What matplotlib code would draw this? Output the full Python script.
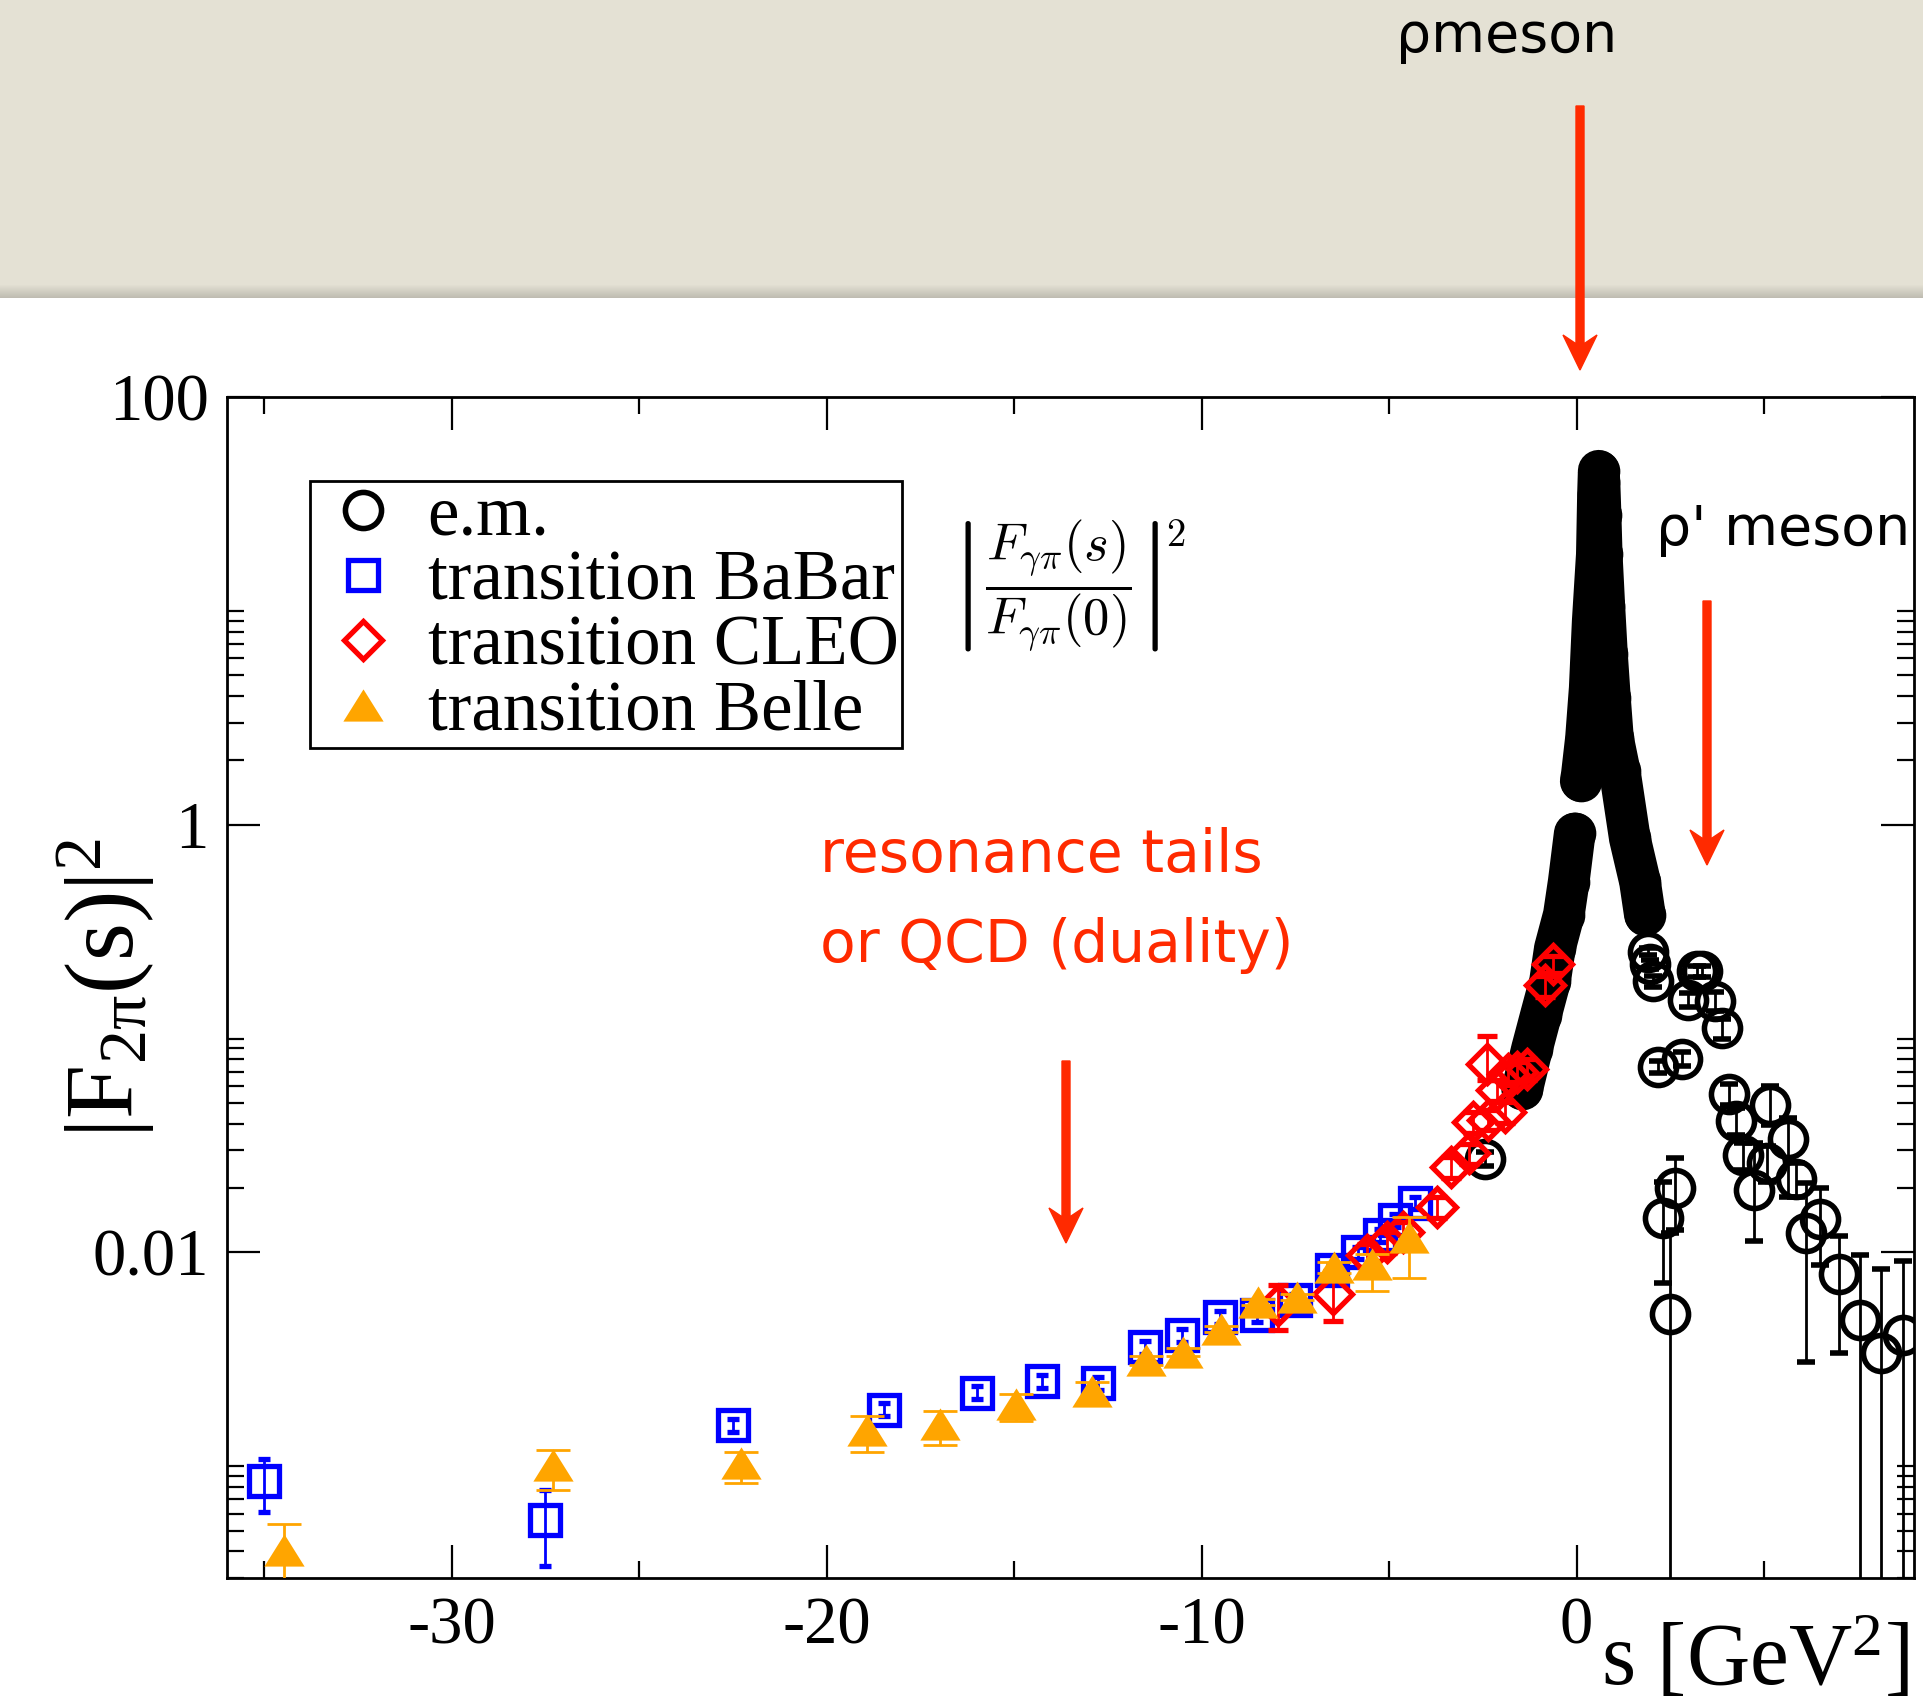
import numpy as np
import matplotlib
matplotlib.use('Agg')
import matplotlib.pyplot as plt
from matplotlib.lines import Line2D
from matplotlib.patches import FancyArrow
from matplotlib.ticker import NullFormatter
from matplotlib.transforms import IdentityTransform

plt.rcParams['font.family'] = ['Liberation Serif', 'DejaVu Serif']
plt.rcParams['mathtext.fontset'] = 'custom'
plt.rcParams['mathtext.rm'] = 'Liberation Serif'
plt.rcParams['mathtext.it'] = 'Liberation Serif:italic'
plt.rcParams['mathtext.bf'] = 'Liberation Serif:bold'
plt.rcParams['axes.unicode_minus'] = False

# e.m. pion form factor, dense timelike data around the rho peak
em_band_s = [0.11, 0.14, 0.25, 0.35, 0.43, 0.54, 0.57, 0.59, 0.61, 0.64, 0.67,
             0.74, 0.81, 0.89, 0.97, 1.15, 1.42, 1.69, 1.82]
em_band_f = [1.60, 1.72, 2.54, 4.35, 8.95, 18.4, 35.0, 45.2, 40.0, 28.0, 18.4,
             10.5, 6.28, 3.9, 2.54, 1.78, 0.863, 0.542, 0.380]

# e.m. dense spacelike data
em_space_s = [-1.45, -1.19, -0.95, -0.71, -0.58, -0.34, -0.21, -0.05]
em_space_f = [0.058, 0.0895, 0.129, 0.185, 0.264, 0.380, 0.542, 0.910]

# e.m. isolated points with errors
em_s = [-2.44, 1.90, 1.95, 2.03, 2.17, 2.30, 2.49, 2.62, 2.81, 2.97, 3.21, 3.34,
        3.69, 3.87, 4.07, 4.25, 4.45, 4.74, 5.07, 5.17, 5.63, 5.86, 6.12, 6.48,
        7.00, 7.56, 8.11, 8.70]
em_f = [0.0274, 0.255, 0.222, 0.185, 0.0738, 0.0144, 0.00516, 0.0201, 0.0804,
        0.152, 0.206, 0.206, 0.150, 0.112, 0.055, 0.0412, 0.0284, 0.0196, 0.0263,
        0.049, 0.0338, 0.0221, 0.01236, 0.0143, 0.00788, 0.00483, 0.00338, 0.00412]
em_lo = [0.002, 0.01, 0.01, 0.01, 0.005, 0.0072, 0.00511, 0.0074, 0.006, 0.012,
         0.012, 0.012, 0.015, 0.012, 0.006, 0.006, 0.004, 0.0083, 0.005, 0.0094,
         0.0157, 0.004, 0.0093, 0.0056, 0.0045, 0.00478, 0.00335, 0.00408]
em_hi = [0.002, 0.01, 0.01, 0.01, 0.005, 0.0069, 0.0072, 0.0076, 0.006, 0.012,
         0.012, 0.012, 0.015, 0.012, 0.006, 0.006, 0.004, 0.0128, 0.005, 0.0107,
         0.0085, 0.004, 0.0087, 0.0056, 0.0041, 0.00492, 0.00494, 0.0050]

# BaBar transition form factor
babar_s = [-35.0, -27.51, -22.51, -18.48, -16.0, -14.26, -12.76, -11.51, -10.52,
           -9.51, -8.52, -7.51, -6.52, -5.82, -5.24, -4.85, -4.30]
babar_f = [8.53e-4, 5.58e-4, 1.55e-3, 1.84e-3, 2.21e-3, 2.49e-3, 2.44e-3, 3.61e-3,
           4.10e-3, 4.98e-3, 5.07e-3, 5.97e-3, 8.26e-3, 1.00e-2, 1.20e-2, 1.41e-2,
           1.70e-2]
babar_lo = [2.4e-4, 2.16e-4, 1.1e-4, 1.3e-4, 1.5e-4, 1.7e-4, 1.7e-4, 2.5e-4, 2.8e-4,
            3.4e-4, 3.5e-4, 4.0e-4, 5.5e-4, 6.5e-4, 8.0e-4, 9.5e-4, 1.1e-3]
babar_hi = [2.3e-4, 2.2e-4, 1.1e-4, 1.3e-4, 1.5e-4, 1.7e-4, 1.7e-4, 2.5e-4, 2.8e-4,
            3.4e-4, 3.5e-4, 4.0e-4, 5.5e-4, 6.5e-4, 8.0e-4, 9.5e-4, 1.1e-3]

# CLEO transition form factor
cleo_s = [-7.96, -6.50, -5.59, -5.06, -4.63, -3.72, -3.35, -2.88, -2.76, -2.39,
          -2.37, -2.13, -1.91, -1.83, -1.60, -1.32, -0.84, -0.63]
cleo_f = [0.00566, 0.00638, 0.00975, 0.0112, 0.01245, 0.0163, 0.0250, 0.0290,
          0.0407, 0.0762, 0.0418, 0.0575, 0.0454, 0.0684, 0.070, 0.0723, 0.177,
          0.222]
cleo_lo = [0.00132, 0.00162, 0.0012, 0.0013, 0.0014, 0.0018, 0.0028, 0.0032, 0.0045,
           0.012, 0.0046, 0.0063, 0.005, 0.0075, 0.0077, 0.008, 0.02, 0.02]
cleo_hi = [0.00137, 0.0018, 0.0012, 0.0013, 0.0014, 0.0018, 0.0028, 0.0032, 0.0045,
           0.027, 0.0046, 0.0063, 0.005, 0.0075, 0.0077, 0.008, 0.02, 0.02]

# Belle transition form factor
belle_s = [-34.48, -27.3, -22.3, -18.94, -16.98, -14.95, -12.93, -11.48, -10.49,
           -9.49, -8.49, -7.47, -6.47, -5.46, -4.46]
belle_f = [4.07e-4, 1.01e-3, 1.03e-3, 1.47e-3, 1.57e-3, 1.95e-3, 2.25e-3, 3.13e-3,
           3.42e-3, 4.38e-3, 5.85e-3, 6.18e-3, 8.53e-3, 8.83e-3, 1.18e-2]
belle_lo = [4.0e-4, 2.4e-4, 2.0e-4, 3.1e-4, 3.2e-4, 3.3e-4, 3.0e-4, 1.5e-4, 1.5e-4,
            1.6e-4, 2.0e-4, 2.0e-4, 5.0e-4, 2.2e-3, 4.2e-3]
belle_hi = [1.3e-4, 1.8e-4, 1.4e-4, 2.5e-4, 2.5e-4, 2.2e-4, 2.2e-4, 1.4e-4, 1.4e-4,
            1.6e-4, 2.0e-4, 2.0e-4, 5.0e-4, 1.0e-3, 2.9e-3]

x_ticks = [-30, -20, -10, 0]
x_tick_labels = ['-30', '-20', '-10', '0']
x_minor = [-35, -25, -15, -5, 5]
y_ticks = [0.01, 1, 100]
y_tick_labels = ['0.01', '1', '100']
y_minor = [m * 10.0 ** e for e in (-4, -2, 0) for m in range(2, 11)]

W, H = 1924, 1707
RED = '#ff2a00'
ORANGE = '#ffa500'

fig = plt.figure(figsize=(W / 100, H / 100), dpi=100)

# paper banner across the top
band_h = 298
banner = np.ones((band_h, 1, 3)) * np.array([228, 225, 212]) / 255.
shade = np.linspace(1.0, 0.84, 14)
banner[-14:, 0, :] *= shade[:, None]
ax_b = fig.add_axes([0, 1 - band_h / H, 1, band_h / H])
ax_b.imshow(banner, aspect='auto', extent=[0, 1, 0, 1])
ax_b.axis('off')

ax = fig.add_axes([227 / W, 1 - 1578 / H, (1914 - 227) / W, (1578 - 397) / H])
ax.set_yscale('log')

circ = dict(marker='o', ms=26, mfc='none', mec='k', mew=4)
sq = dict(marker='s', ms=22, mfc='none', mec='#0000ff', mew=3.8)
dia = dict(marker='D', ms=19, mfc='none', mec='#ff0000', mew=3.8)
tri = [(-1, -0.8), (1, -0.8), (0, 0.8), (-1, -0.8)]
trim = dict(marker=tri, ms=29, mfc=ORANGE, mec='none')

ax.plot(em_band_s, em_band_f, '-', color='k', lw=30,
        solid_capstyle='round', solid_joinstyle='round', zorder=2)
ax.plot(em_space_s, em_space_f, '-', color='k', lw=30,
        solid_capstyle='round', solid_joinstyle='round', zorder=2)
ax.plot(em_band_s, em_band_f, ls='none', zorder=2.1, **circ)
ax.plot(em_space_s, em_space_f, ls='none', zorder=2.1, **circ)
ax.errorbar(em_s, em_f, yerr=[em_lo, em_hi], ls='none', ecolor='k',
            elinewidth=2, capsize=6.5, capthick=2, zorder=2.1, **circ)

ax.errorbar(babar_s, babar_f, yerr=[babar_lo, babar_hi], ls='none',
            ecolor='#0000ff', elinewidth=2, capsize=4, capthick=2, zorder=3, **sq)
ax.errorbar(cleo_s, cleo_f, yerr=[cleo_lo, cleo_hi], ls='none',
            ecolor='#ff0000', elinewidth=2, capsize=7, capthick=2, zorder=4, **dia)
ax.errorbar(belle_s, belle_f, yerr=[belle_lo, belle_hi], ls='none',
            ecolor=ORANGE, elinewidth=2, capsize=12, capthick=2, zorder=5, **trim)

ax.set_xlim(-36, 9)
ax.set_xticks(x_ticks)
ax.set_xticklabels(x_tick_labels)
ax.set_xticks(x_minor, minor=True)
ax.set_yticks(y_ticks)
ax.set_yticklabels(y_tick_labels)
ax.set_yticks(y_minor, minor=True)
ax.yaxis.set_minor_formatter(NullFormatter())
ax.set_ylim(3e-4, 100)
ax.tick_params(which='both', direction='in', top=True, right=True, width=1.6,
               labelsize=48, pad=13)
ax.tick_params(which='major', length=24)
ax.tick_params(which='minor', length=12)
for sp in ax.spines.values():
    sp.set_linewidth(2)

ax.set_ylabel(r'$\mathrm{|F_{2\pi}(s)|^2}$', fontsize=70)
ax.yaxis.set_label_coords(-0.042, 0.5)
ax.set_xlabel(r's [GeV$^2$]', fontsize=63, loc='right')
ax.xaxis.set_label_coords(0.997, -0.033)

handles = [Line2D([], [], ls='none', **circ), Line2D([], [], ls='none', **sq),
           Line2D([], [], ls='none', **dia), Line2D([], [], ls='none', **trim)]
labels = ['e.m.', 'transition BaBar', 'transition CLEO', 'transition Belle']
leg = ax.legend(handles, labels, loc='upper left',
                bbox_to_anchor=((310 - 227) / 1687, (1578 - 481) / 1181),
                borderaxespad=0, fontsize=51, frameon=True, fancybox=False,
                edgecolor='k', framealpha=1, borderpad=0.05, labelspacing=0.0,
                handlelength=1.41, handletextpad=0.2)
leg.get_frame().set_linewidth(2)

ax.text(0.428, 0.840, r'$\left|\dfrac{F_{\gamma\pi}(s)}{F_{\gamma\pi}(0)}\right|$',
        transform=ax.transAxes, fontsize=38, math_fontfamily='cm',
        ha='left', va='center')
fig.text(1176 / W, 1 - 536 / H, r'$2$', fontsize=28, math_fontfamily='cm',
         ha='center', va='center')

hand = ['DejaVu Sans']
fig.text(1507 / W, 1 - 37 / H, 'ρmeson', ha='center', va='center',
         fontsize=40, family=hand, color='k')
fig.text(1783 / W, 1 - 530 / H, "ρ' meson", ha='center', va='center',
         fontsize=40, family=hand, color='k')
fig.text(820 / W, 1 - 855 / H, 'resonance tails', ha='left', va='center',
         fontsize=42, family=hand, color=RED)
fig.text(820 / W, 1 - 945 / H, 'or QCD (duality)', ha='left', va='center',
         fontsize=42, family=hand, color=RED)


def red_arrow(x, y0, y1):
    arr = FancyArrow(x, H - y0, 0, -(y1 - y0), width=8, head_width=34,
                     head_length=35, overhang=0.25, length_includes_head=True,
                     color=RED, transform=IdentityTransform())
    fig.add_artist(arr)


red_arrow(1580, 106, 370)
red_arrow(1707, 601, 865)
red_arrow(1066, 1061, 1243)

fig.savefig('out.png', dpi=100)
